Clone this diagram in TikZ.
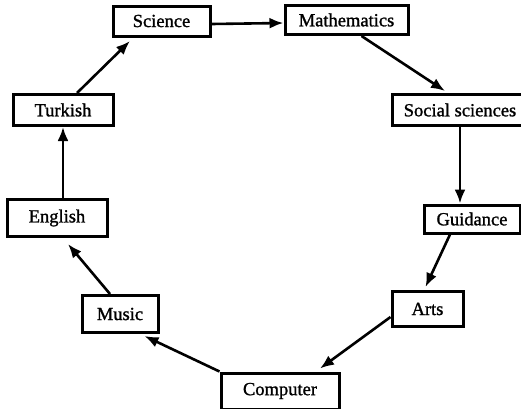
\documentclass[tikz,border=0pt]{standalone}
\usepackage{fontspec}
\setmainfont{Liberation Serif}
\newfontfamily\subjfont[FakeBold=1.2]{Liberation Serif}
\usetikzlibrary{arrows.meta}

\begin{document}
\begin{tikzpicture}[x=1pt, y=-1pt,
        subject/.style={draw, line width=3pt, inner sep=0pt, font=\subjfont\fontsize{18.5}{22}\selectfont},
        flow/.style={line width=2.6pt, -{Latex[length=14pt,width=11pt]}}]
            \useasboundingbox (0,0) rectangle (521,408);
            \node[subject, minimum width= 97, minimum height=30] (science)  at (161.5, 21) {Science};
            \node[subject, minimum width=123, minimum height=29] (maths)    at (346.5, 20) {Mathematics};
            \node[subject, minimum width=136, minimum height=31] (social)   at (460.0,110) {Social sciences};
            \node[subject, minimum width= 96, minimum height=28] (guidance) at (472.0,219) {Guidance};
            \node[subject, minimum width= 71, minimum height=35] (arts)     at (427.5,309) {Arts};
            \node[subject, minimum width=118, minimum height=36] (computer) at (280.0,391) {Computer};
            \node[subject, minimum width= 76, minimum height=37] (music)    at (120.0,314) {Music};
            \node[subject, minimum width=100, minimum height=37] (english)  at ( 57.0,218) {English};
            \node[subject, minimum width=100, minimum height=31] (turkish)  at ( 63.0,110) {Turkish};
            \draw[flow] ([yshift=-3pt]science.east) -- ([yshift=-3pt]maths.west);
            \draw[flow] ([xshift=15pt]maths.south) -- ([xshift=-15pt,yshift=2pt]social.north);
            \draw[flow] (social.south) -- (social.south |- guidance.north);
            \draw[flow] ([xshift=-22pt]guidance.south) -- ([xshift=-2pt,yshift=3pt]arts.north);
            \draw[flow] ([yshift=-8pt]arts.west) -- ([xshift=40pt,yshift=3pt]computer.north);
            \draw[flow] (computer.north west) -- ([xshift=-15pt,yshift=-2pt]music.south east);
            \draw[flow] ([xshift=-10pt]music.north) -- ([xshift=11pt,yshift=-6pt]english.south);
            \draw[flow] (english.north -| turkish.south) -- (turkish.south);
            \draw[flow, shorten >=5pt] ([xshift=14pt]turkish.north) -- ([xshift=-28pt]science.south);
        \end{tikzpicture}
\end{document}
